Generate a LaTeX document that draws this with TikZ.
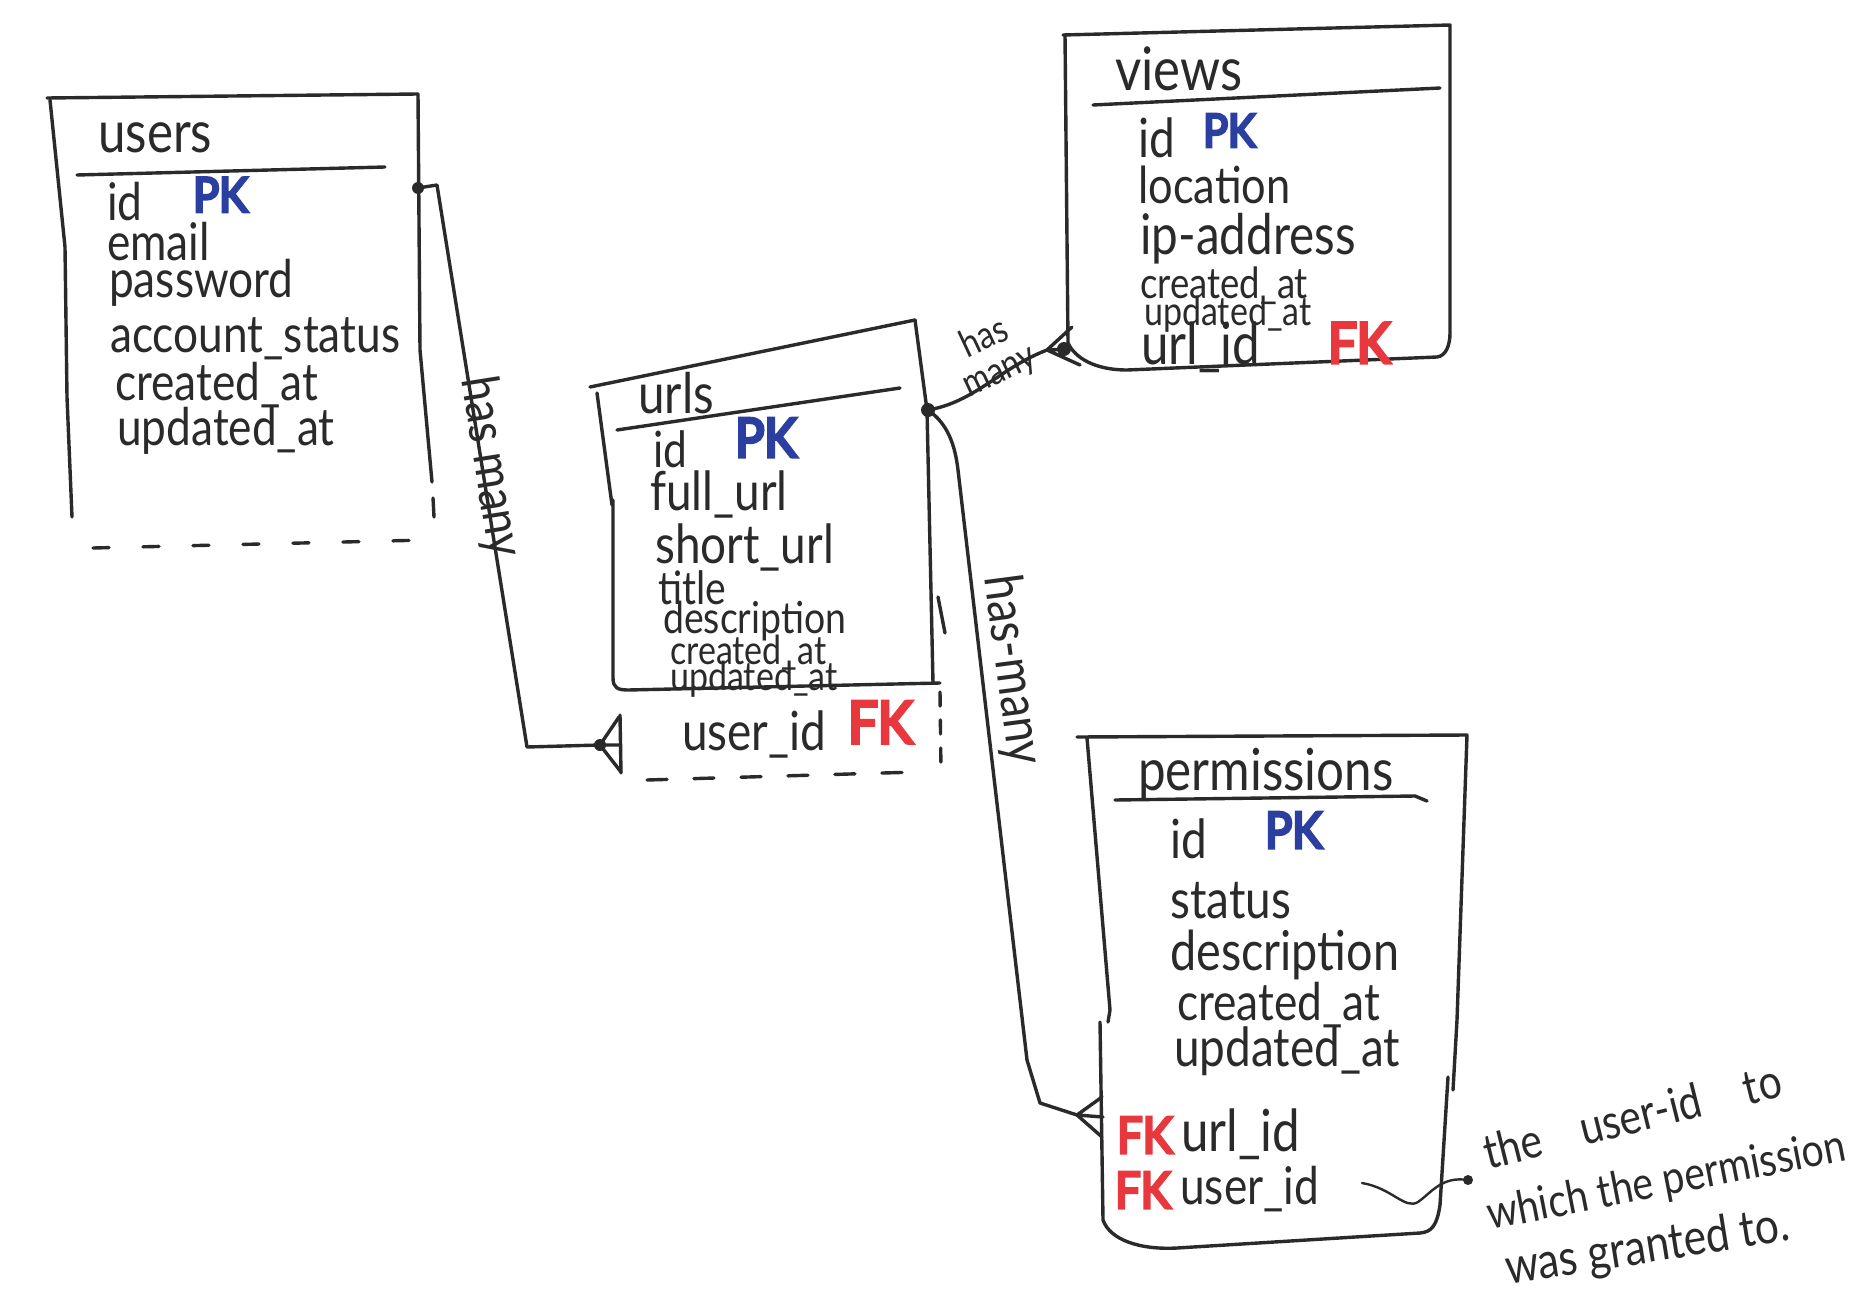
\documentclass[tikz,border=0pt]{standalone}
\usepackage{fontspec}
\setmainfont{Lato}[FakeStretch=0.85]
\newfontfamily\markfont{Lato}[FakeStretch=0.9, FakeBold=6]
\definecolor{ink}{HTML}{2A2A2A}
\definecolor{pkblue}{HTML}{2B3FA0}
\definecolor{fkred}{HTML}{E8383D}
\tikzset{
  pen/.style={draw=ink, line width=3.4pt, line cap=round, line join=round},
  thinpen/.style={draw=ink, line width=2.4pt, line cap=round, line join=round},
  dashpen/.style={pen, dash pattern=on 16pt off 34pt},
  txt/.style={anchor=base west, inner sep=0pt, text=ink},
  ttl/.style={txt, font=\fontsize{#1}{#1}\selectfont},
  attr/.style={txt, font=\fontsize{#1}{#1}\selectfont},
  pk/.style={anchor=base west, inner sep=0pt, text=pkblue, font=\fontsize{#1}{#1}\markfont},
  fk/.style={anchor=base west, inner sep=0pt, text=fkred, font=\fontsize{#1}{#1}\markfont},
  rel/.style={inner sep=0pt, text=ink, align=center, font=\fontsize{#1}{#1}\selectfont},
  dotmark/.style={fill=ink}
}
\begin{document}
\begin{tikzpicture}[x=1pt,y=-1pt]
\useasboundingbox[fill=white] (0,0) rectangle (1860,1306);

% ---------------- users ----------------
\draw[pen] (47,98) -- (418,94);
\draw[pen] (50,100) -- (65,247) -- (67,397) -- (72,517);
\draw[pen] (418,94) -- (420,350) -- (432,482);
\draw[pen] (433,498) -- (434,517);
\draw[dashpen] (93,548) -- (427,540);
\node[ttl=58] (uT) at (98,152) {users};
\draw[pen] (77,175) -- (385,167);
\node[attr=52] (u1) at (107,220) {id};
\node[pk=48] (uPK) at (193,212) {PK};
\node[attr=52] (u2) at (107,260) {email};
\node[attr=52] (u3) at (109,297) {password};
\node[attr=52] (u4) at (110,352) {account\_status};
\node[attr=52] (u5) at (115,400) {created\_at};
\node[attr=52] (u6) at (117,445) {updated\_at};

% ---------------- urls ----------------
\draw[pen] (590,387) -- (915,320);
\draw[pen] (597,393) -- (612,505);
\draw[pen] (613,500) -- (613,678) .. controls (613,688) and (618,690) .. (628,690) -- (940,683);
\draw[pen] (915,320) -- (927,410) -- (933,683);
\draw[pen] (938,597) -- (945,633);
\draw[pen] (620,715) -- (621,773);
\draw[dashpen, dash pattern=on 14pt off 14pt] (940,692) -- (941,772);
\draw[dashpen, dash pattern=on 20pt off 27pt] (647,780) -- (917,772);
\node[ttl=56] (rT) at (638,413) {urls};
\draw[pen] (617,430) -- (900,388);
\node[attr=50] (r1) at (653,467) {id};
\node[pk=54] (rPK) at (735,457) {PK};
\node[attr=54] (r2) at (650,510) {full\_url};
\node[attr=54] (r3) at (655,563) {short\_url};
\node[attr=46] (r4) at (658,604) {title};
\node[attr=44] (r5) at (663,633) {description};
\node[attr=40] (r6) at (670,664) {created\_at};
\node[attr=40] (r7) at (670,690) {updated\_at};
\node[attr=54] (r8) at (682,750) {user\_id};
\node[fk=58] (rFK) at (848,743) {FK};

% ---------------- views ----------------
\draw[pen] (1063,35) -- (1450,25) -- (1450,333)
  .. controls (1450,345) and (1446,356) .. (1437,357) -- (1127,370)
  .. controls (1095,370) and (1075,358) .. (1068,343) -- (1065,35);
\node[ttl=60] (vT) at (1115,90) {views};
\draw[pen] (1093,105) -- (1440,88);
\node[attr=54] (v1) at (1138,157) {id};
\node[pk=46] (vPK) at (1203,147) {PK};
\node[attr=51] (v2) at (1138,203) {location};
\node[attr=56] (v3) at (1140,254) {ip-address};
\node[attr=43] (v4) at (1140,298) {created\_at};
\node[attr=40] (v5) at (1144,325) {updated\_at};
\node[attr=58] (v6) at (1141,364) {url\_id};
\node[fk=56] (vFK) at (1328,363) {FK};

% ---------------- permissions ----------------
\draw[pen] (1077,737) -- (1467,735) -- (1457,1020) -- (1453,1090);
\draw[pen] (1448,1077) -- (1440,1205) .. controls (1437,1225) and (1432,1232) .. (1420,1233)
  -- (1177,1248) .. controls (1140,1250) and (1110,1240) .. (1103,1220) -- (1100,1022);
\draw[pen] (1087,738) -- (1110,1010) -- (1108,1022);
\node[ttl=58] (pT) at (1138,790) {permissions};
\draw[pen] (1115,800) -- (1415,796) -- (1427,801);
\node[attr=54] (p1) at (1170,858) {id};
\node[pk=50] (pPK) at (1265,848) {PK};
\node[attr=54] (p2) at (1170,918) {status};
\node[attr=55] (p3) at (1170,970) {description};
\node[attr=52] (p4) at (1177,1020) {created\_at};
\node[attr=54] (p5) at (1174,1066) {updated\_at};
\node[fk=50] (pFK1) at (1117,1153) {FK};
\node[attr=58] (p6) at (1181,1151) {url\_id};
\node[fk=50] (pFK2) at (1115,1208) {FK};
\node[attr=52] (p7) at (1180,1204) {user\_id};

% ---------------- connectors ----------------
% users -> urls
\coordinate (uDot) at (418,188);
\coordinate (rFoot) at (600,745);
\fill[dotmark] (uDot) circle (6pt);
\draw[pen] (uDot) -- (437,185) -- (527,747) -- (rFoot);
\draw[pen] (rFoot) -- (619,717) (rFoot) -- (621,745) (rFoot) -- (621,772);
\fill[dotmark] (rFoot) circle (6pt);
\node[rel=52, rotate=-81] (lbl1) at (490,467) {has many};

% urls -> views
\coordinate (rDot) at (928,410);
\coordinate (vFoot) at (1047,350);
\fill[dotmark] (rDot) circle (7pt);
\draw[pen] (rDot) .. controls (975,402) and (1000,368) .. (vFoot);
\draw[pen] (vFoot) -- (1072,327) (vFoot) -- (1069,349) (vFoot) -- (1080,365);
\fill[dotmark] (1064,349) circle (7pt);
\node[rel=38, rotate=25] (lbl2) at (992,355) {has\\[-2pt]many};

% urls -> permissions
\coordinate (pFoot) at (1077,1115);
\draw[pen] (rDot) .. controls (948,424) and (955,445) .. (958,470) -- (1027,1060) -- (1040,1103) -- (pFoot);
\draw[pen] (pFoot) -- (1102,1097) (pFoot) -- (1103,1117) (pFoot) -- (1102,1137);
\node[rel=53, rotate=-82.5] (lbl3) at (1012,670) {has-many};

% annotation
\coordinate (nStart) at (1362,1183);
\coordinate (nDot) at (1468,1180);
\draw[thinpen] (nStart) .. controls (1392,1188) and (1405,1210) .. (1418,1202)
  .. controls (1432,1192) and (1442,1176) .. (nDot);
\fill[dotmark] (nDot) circle (5pt);
\node[attr=48, rotate=14] (n1) at (1488,1170) {the\hspace{30pt} user-id\hspace{34pt} to};
\node[attr=46, rotate=11] (n2) at (1490,1230) {which the permission};
\node[attr=50, rotate=9] (n3) at (1508,1285) {was granted to.};
\end{tikzpicture}
\end{document}
